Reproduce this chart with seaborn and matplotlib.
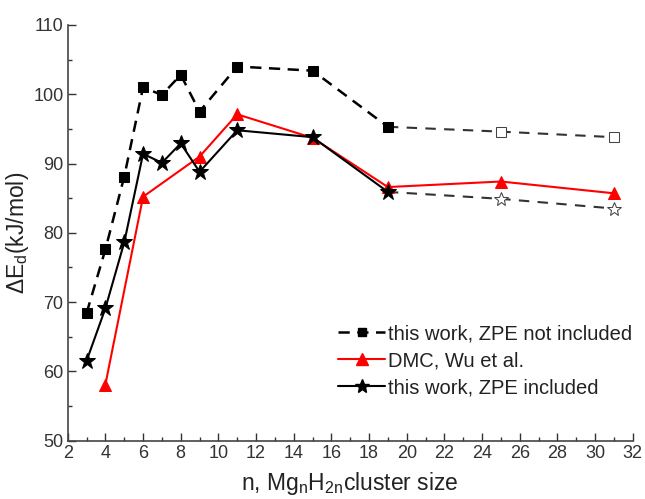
import matplotlib
matplotlib.use("Agg")
import matplotlib.pyplot as plt
import seaborn as sns
import pandas as pd
from matplotlib.ticker import MultipleLocator
from matplotlib.lines import Line2D

# Data
n_noZPE = [3, 4, 5, 6, 7, 8, 9, 11, 15, 19]
e_noZPE = [68.4, 77.6, 88.1, 101.0, 99.9, 102.8, 97.5, 104.0, 103.4, 95.3]
n_noZPE_ext = [19, 25, 31]
e_noZPE_ext = [95.3, 94.6, 93.8]

n_dmc = [4, 6, 9, 11, 15, 19, 25, 31]
e_dmc = [58.1, 85.2, 91.0, 97.1, 93.7, 86.6, 87.4, 85.7]

n_ZPE = [3, 4, 5, 6, 7, 8, 9, 11, 15, 19]
e_ZPE = [61.5, 69.1, 78.6, 91.4, 90.1, 92.9, 88.8, 94.8, 93.8, 85.9]
n_ZPE_ext = [19, 25, 31]
e_ZPE_ext = [85.9, 84.9, 83.5]

labels = ["this work, ZPE not included", "DMC, Wu et al.", "this work, ZPE included"]

sns.set_style("white")
plt.rcParams['font.family'] = ['Liberation Sans', 'DejaVu Sans']
plt.rcParams['mathtext.fontset'] = 'custom'
plt.rcParams['mathtext.rm'] = 'Liberation Sans'
plt.rcParams['mathtext.it'] = 'Liberation Sans:italic'

fig = plt.figure(figsize=(6.45, 4.99), dpi=100)
ax = fig.add_axes([0.105, 0.117, 0.876, 0.833])

df1 = pd.DataFrame({"n": n_noZPE, "E": e_noZPE})
df1e = pd.DataFrame({"n": n_noZPE_ext, "E": e_noZPE_ext})
df2 = pd.DataFrame({"n": n_dmc, "E": e_dmc})
df3 = pd.DataFrame({"n": n_ZPE, "E": e_ZPE})
df3e = pd.DataFrame({"n": n_ZPE_ext, "E": e_ZPE_ext})

# extension dashed lines with open markers
sns.lineplot(data=df1e.iloc[1:], x="n", y="E", ax=ax, color="#555555", marker="s",
             markersize=7, markerfacecolor="white", markeredgecolor="#444444",
             linestyle="none", zorder=3)
ax.plot(n_noZPE_ext, e_noZPE_ext, color="#333333", lw=1.5, dashes=(5, 4), zorder=2)
sns.lineplot(data=df3e.iloc[1:], x="n", y="E", ax=ax, color="#555555", marker="*",
             markersize=10, markerfacecolor="white", markeredgecolor="#444444",
             linestyle="none", zorder=3)
ax.plot(n_ZPE_ext, e_ZPE_ext, color="#333333", lw=1.5, dashes=(5, 4), zorder=2)

sns.lineplot(data=df1, x="n", y="E", ax=ax, color="black", marker="s", markersize=7,
             markeredgecolor="black", lw=1.8, dashes=(4.5, 3), sort=False, zorder=4)
sns.lineplot(data=df2, x="n", y="E", ax=ax, color="red", marker="^", markersize=9,
             markeredgecolor="red", lw=1.5, sort=False, zorder=4)
sns.lineplot(data=df3, x="n", y="E", ax=ax, color="black", marker="*", markersize=12,
             markeredgecolor="black", lw=1.5, sort=False, zorder=5)

ax.set_xlim(2, 32)
ax.set_ylim(50, 110)
ax.xaxis.set_major_locator(MultipleLocator(2))
ax.xaxis.set_minor_locator(MultipleLocator(1))
ax.yaxis.set_major_locator(MultipleLocator(10))
ax.yaxis.set_minor_locator(MultipleLocator(5))
ax.tick_params(which="both", direction="in", left=True, bottom=True, labelsize=13,
               colors="#333333")
ax.tick_params(axis="x", pad=3)
ax.tick_params(axis="y", pad=3)
ax.tick_params(which="major", length=6, width=1)
ax.tick_params(which="minor", length=3, width=1)
for s in ["top", "right"]:
    ax.spines[s].set_visible(False)
for s in ["left", "bottom"]:
    ax.spines[s].set_color("#444444")
    ax.spines[s].set_linewidth(1.2)

ax.set_xlabel("n, Mg$_\\mathregular{n}$H$_\\mathregular{2n}$cluster size", fontsize=16.5,
              color="#222222", labelpad=6)
ax.set_ylabel("ΔE$_\\mathregular{d}$(kJ/mol)", fontsize=16.5, color="#222222", labelpad=2)

handles = [
    Line2D([], [], color="black", lw=1.8, dashes=(4.5, 3), marker="s", markersize=6),
    Line2D([], [], color="red", lw=1.5, marker="^", markersize=8),
    Line2D([], [], color="black", lw=1.5, marker="*", markersize=10),
]
leg = ax.legend(handles, labels, loc="lower right", bbox_to_anchor=(1.02, 0.075),
                frameon=False, fontsize=14.5, handlelength=2.3, handletextpad=0.15,
                labelspacing=0.4, borderaxespad=0.2)
for t in leg.get_texts():
    t.set_color("#222222")

fig.savefig("out.png", dpi=100)
